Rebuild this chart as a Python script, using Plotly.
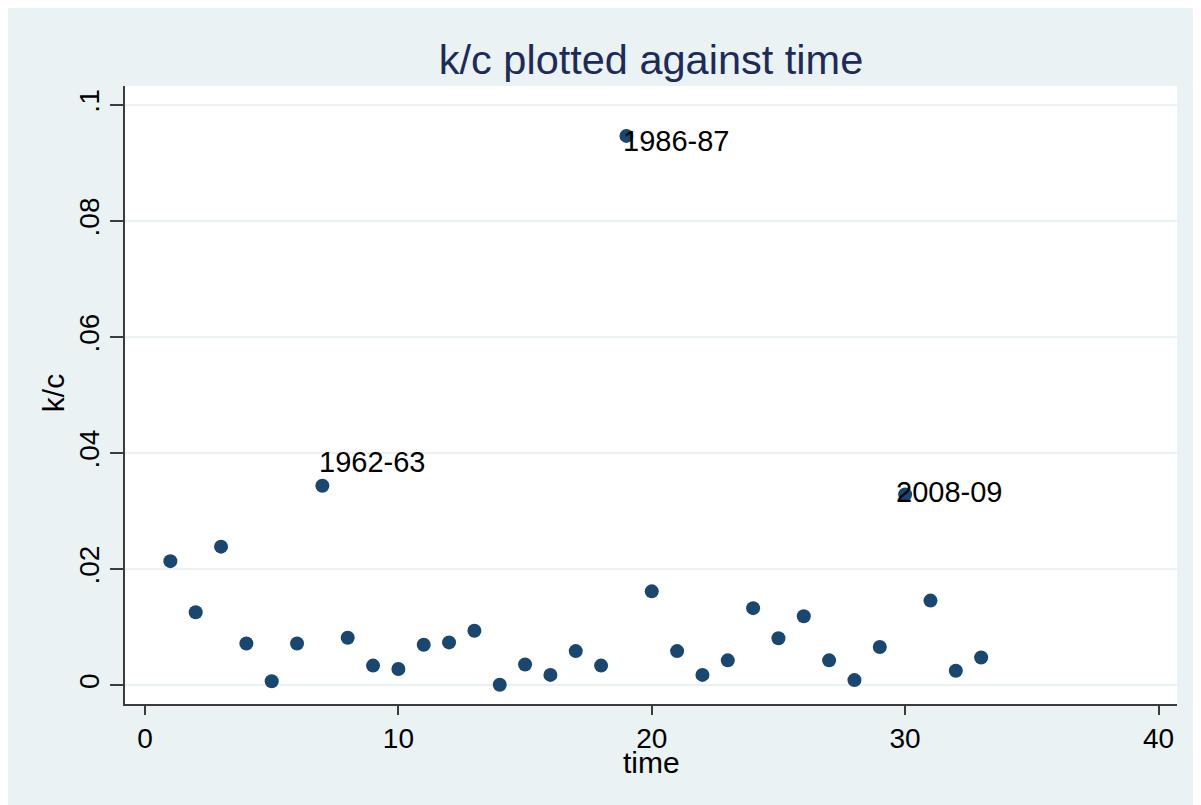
import plotly.graph_objects as go

time = list(range(1, 34))
kc = [0.0214, 0.0126, 0.0239, 0.0072, 0.0007, 0.0072, 0.0344, 0.0082, 0.0034, 0.0028,
      0.0070, 0.0074, 0.0094, 0.0001, 0.0036, 0.0018, 0.0059, 0.0034, 0.0947, 0.0162,
      0.0059, 0.0018, 0.0043, 0.0133, 0.0081, 0.0119, 0.0043, 0.0009, 0.0066, 0.0329,
      0.0146, 0.0025, 0.0048]

label_times = [7, 19, 30]
label_texts = ["1962-63", "1986-87", "2008-09"]
label_xshift = [-5, -5, -11]
label_yshift = [24, -5, 2]

y_tickvals = [0, 0.02, 0.04, 0.06, 0.08, 0.1]
y_ticktext = ["0", ".02", ".04", ".06", ".08", ".1"]
x_tickvals = [0, 10, 20, 30, 40]

BG = "#EAF2F3"
MARK = "#1a476f"
AX = "#3c3c3c"
FONT = "Liberation Sans, Arial, sans-serif"

fig = go.Figure()
fig.add_trace(go.Scatter(
    x=time, y=kc, mode="markers",
    marker=dict(color=MARK, size=14, line=dict(width=0)),
    showlegend=False, hoverinfo="x+y"))

annotations = []
for t, txt, xs, ys in zip(label_times, label_texts, label_xshift, label_yshift):
    annotations.append(dict(
        x=t, y=kc[time.index(t)], xref="x", yref="y", text=txt, showarrow=False,
        xanchor="left", yanchor="middle", xshift=xs, yshift=ys,
        font=dict(family=FONT, size=29, color="black")))

annotations.append(dict(x=0.5, y=-0.095, xref="paper", yref="paper", text="time",
                        showarrow=False, xanchor="center", yanchor="middle",
                        font=dict(family=FONT, size=30, color="black")))
annotations.append(dict(x=-0.0684, y=0.503, xref="paper", yref="paper", text="k/c",
                        showarrow=False, xanchor="center", yanchor="middle", textangle=-90,
                        font=dict(family=FONT, size=30, color="black")))

fig.update_layout(
    width=1201, height=805,
    margin=dict(l=117, r=32, t=78, b=109),
    paper_bgcolor=BG, plot_bgcolor="white",
    title=dict(text="k/c plotted against time", x=0.5, xref="paper", xanchor="center",
               y=1 - 51 / 805, yref="container", yanchor="middle",
               font=dict(family=FONT, size=41.5, color="#1c2b5a")),
    font=dict(family=FONT, color="black"),
    annotations=annotations,
    xaxis=dict(range=[-0.79, 40.73], tickvals=x_tickvals, showgrid=False, zeroline=False,
               showline=True, linecolor=AX, linewidth=1.5, ticks="outside", ticklen=9,
               tickcolor=AX, tickwidth=1.5, tickfont=dict(family=FONT, size=28, color="black")),
    yaxis=dict(range=[-0.00322, 0.1033], tickvals=y_tickvals, ticktext=y_ticktext,
               showgrid=True, gridcolor=BG, gridwidth=2, zeroline=False,
               showline=True, linecolor=AX, linewidth=1.5, ticks="outside", ticklen=13,
               tickcolor=AX, tickwidth=1.5, tickangle=-90,
               tickfont=dict(family=FONT, size=28, color="black")),
)

fig.write_html("out.html")
